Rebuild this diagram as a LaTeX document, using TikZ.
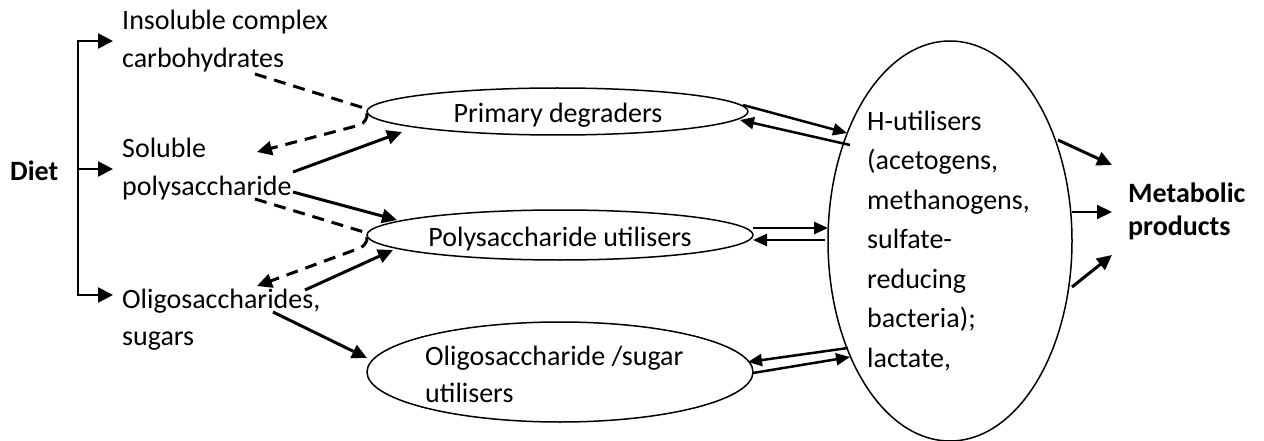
\documentclass[tikz,border=0pt]{standalone}
\usepackage{fontspec}
\setmainfont{Carlito}
\usetikzlibrary{arrows.meta,shapes.geometric}
\begin{document}
\begin{tikzpicture}[x=1pt,y=-1pt,
  txt/.style={inner sep=0pt, font=\fontsize{28}{38}\selectfont, align=left, anchor=base west},
  bold/.style={font=\fontsize{28}{33}\selectfont\bfseries},
  ell/.style={draw, ellipse, line width=1.5pt, inner sep=0pt},
  sol/.style={line width=3pt, -{Triangle[length=15pt,width=14pt]}},
  dsh/.style={line width=3pt, dash pattern=on 12pt off 8pt, -{Triangle[length=15pt,width=14pt]}},
  bi/.style={line width=2.5pt, -{Triangle[length=14pt,width=12pt]}},
  brk/.style={line width=2.5pt},
  brkarrow/.style={line width=2.5pt, -{Triangle[length=15pt,width=15pt]}},
]
\useasboundingbox (0,0) rectangle (1264,441);

% ellipses
\node[ell, minimum width=381pt, minimum height=47pt] (pd) at (557.5,111.5) {};
\node[ell, minimum width=386pt, minimum height=50pt] (pu) at (560,235) {};
\node[ell, minimum width=386pt, minimum height=100pt] (os) at (560,372) {};
\node[ell, minimum width=244pt, minimum height=400pt] (big) at (950,241) {};

% texts (base anchor = baseline of the last line)
\node[txt, bold] (diet) at (10,180) {Diet};
\node[txt] (ins) at (122,68) {Insoluble complex\\carbohydrates};
\node[txt] (sol) at (122,195) {Soluble\\polysaccharide};
\node[txt, font=\fontsize{28}{37}\selectfont] (oli) at (122,345) {Oligosaccharides,\\sugars};
\node[txt, anchor=base] (pdt) at (558,123) {Primary degraders};
\node[txt, anchor=base] (put) at (560,246) {Polysaccharide utilisers};
\node[txt, font=\fontsize{28}{37}\selectfont] (ost) at (425,402) {Oligosaccharide /sugar\\utilisers};
\node[txt, font=\fontsize{28}{39.5}\selectfont] (bigt) at (867,367)
  {H-utilisers\\(acetogens,\\methanogens,\\sulfate-\\reducing\\bacteria);\\lactate,};
\node[txt, bold] (met) at (1128,235) {Metabolic\\products};

% bracket
\coordinate (bt) at (78,41);
\coordinate (bm) at (78,169);
\coordinate (bb) at (78,295);
\coordinate (a1) at (113,41);
\coordinate (a2) at (113,169);
\coordinate (a3) at (113,295);
\draw[brk, {Triangle[length=15pt,width=15pt]}-{Triangle[length=15pt,width=15pt]}] (a1) -- (bt) -- (bb) -- (a3);
\draw[brkarrow] (bm) -- (a2);

% dashed loops
\coordinate (d1s) at (255,74);
\coordinate (d1a) at (364,108);
\coordinate (d1b) at (360,125);
\coordinate (d1e) at (257,152);
\draw[dsh] (d1s) -- (d1a) .. controls (369,111) and (368,121) .. (d1b) -- (d1e);
\coordinate (d2s) at (255,199);
\coordinate (d2a) at (364,232);
\coordinate (d2b) at (360,248);
\coordinate (d2e) at (257,286);
\draw[dsh] (d2s) -- (d2a) .. controls (369,235) and (368,244) .. (d2b) -- (d2e);

% solid arrows from substrates
\coordinate (s1s) at (293,172); \coordinate (s1e) at (402,132);
\coordinate (s2s) at (293,192); \coordinate (s2e) at (397,220);
\coordinate (s3s) at (305,290); \coordinate (s3e) at (393,250);
\coordinate (s4s) at (273,312); \coordinate (s4e) at (367,358);
\draw[sol] (s1s) -- (s1e);
\draw[sol] (s2s) -- (s2e);
\draw[sol] (s3s) -- (s3e);
\draw[sol] (s4s) -- (s4e);

% exchanges with H-utilisers
\coordinate (r1s) at (743,105); \coordinate (r1e) at (847,133);
\coordinate (r2s) at (850,145); \coordinate (r2e) at (740,120);
\coordinate (r3s) at (753,228); \coordinate (r3e) at (828,228);
\coordinate (r4s) at (825,240); \coordinate (r4e) at (753,240);
\coordinate (r5s) at (848,348); \coordinate (r5e) at (748,362);
\coordinate (r6s) at (753,373); \coordinate (r6e) at (850,357);
\draw[bi] (r1s) -- (r1e);
\draw[bi] (r2s) -- (r2e);
\draw[bi] (r3s) -- (r3e);
\draw[bi] (r4s) -- (r4e);
\draw[bi] (r5s) -- (r5e);
\draw[bi] (r6s) -- (r6e);

% to metabolic products
\coordinate (m1s) at (1058,140); \coordinate (m1e) at (1112,165);
\coordinate (m2s) at (1072,212); \coordinate (m2e) at (1112,212);
\coordinate (m3s) at (1072,287); \coordinate (m3e) at (1112,255);
\draw[sol] (m1s) -- (m1e);
\draw[sol, line width=2pt] (m2s) -- (m2e);
\draw[sol] (m3s) -- (m3e);
\end{tikzpicture}
\end{document}
